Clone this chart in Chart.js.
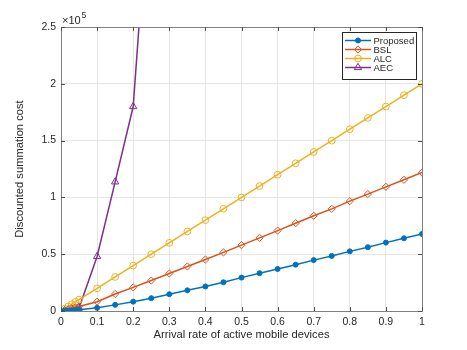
<!DOCTYPE html>
<html>
<head>
<meta charset="utf-8">
<script src="https://cdn.jsdelivr.net/npm/chart.js@4"></script>
<style>
  html, body { margin: 0; padding: 0; background: #fff; }
  #wrap { width: 467px; height: 350px; position: relative; }
</style>
</head>
<body>
<div id="wrap"><canvas id="chart" width="467" height="350"></canvas></div>
<script>
/* ===== data ===== */
const arrivalRates = [0.01, 0.02, 0.03, 0.04, 0.05,
  0.1, 0.15, 0.2, 0.25, 0.3, 0.35, 0.4, 0.45, 0.5, 0.55,
  0.6, 0.65, 0.7, 0.75, 0.8, 0.85, 0.9, 0.95, 1.0];
const proposedCost = [200, 400, 600, 800, 1100,
  2800, 5400, 8200, 11300, 14800, 18200, 21600, 25300, 29400, 33300,
  37000, 40800, 44800, 48500, 52500, 56200, 60200, 64000, 67800];
const bslCost = [700, 1500, 2300, 3100, 3900,
  8200, 15000, 20800, 26800, 33000, 39200, 45300, 51600, 58000, 64400,
  70800, 77300, 83800, 89900, 96700, 102900, 109300, 115500, 121900];
const alcCost = [2000, 4000, 6000, 8000, 10000,
  20000, 30000, 40000, 50000, 60000, 70000, 80000, 90000, 100000, 110000,
  120000, 130000, 140000, 150000, 160000, 170000, 180000, 190000, 200000];
const aecRates = [0.01, 0.02, 0.03, 0.04, 0.05, 0.1, 0.15, 0.2, 0.25];
const aecCost = [400, 800, 1300, 1900, 2600, 48000, 113700, 180000, 400000];
const yTicks = [0, 50000, 100000, 150000, 200000, 250000];

const seriesNames = ['Proposed', 'BSL', 'ALC', 'AEC'];
const seriesColors = ['#0072BD', '#D95319', '#EDB120', '#7E2F8E'];

const toPoints = (xs, ys) => xs.map((x, i) => ({ x: x, y: ys[i] }));

const TEXT = '#262626';
const FONT = '"Liberation Sans", Arial, Helvetica, sans-serif';

// box, inward ticks, x10^5 label, legend
const framePlugin = {
  id: 'frame',
  afterDraw(chart) {
    const { ctx, chartArea: a, scales } = chart;
    ctx.save();
    ctx.strokeStyle = '#808080';
    ctx.lineWidth = 1;
    ctx.strokeRect(Math.round(a.left) + 0.5, Math.round(a.top) + 0.5,
      Math.round(a.right - a.left), Math.round(a.bottom - a.top));
    ctx.strokeStyle = '#4d4d4d';
    const t = 4;
    scales.x.ticks.forEach(tk => {
      const px = Math.round(scales.x.getPixelForValue(tk.value)) + 0.5;
      ctx.beginPath();
      ctx.moveTo(px, a.bottom); ctx.lineTo(px, a.bottom - t);
      ctx.moveTo(px, a.top); ctx.lineTo(px, a.top + t);
      ctx.stroke();
    });
    scales.y.ticks.forEach(tk => {
      const py = Math.round(scales.y.getPixelForValue(tk.value)) + 0.5;
      ctx.beginPath();
      ctx.moveTo(a.left, py); ctx.lineTo(a.left + t, py);
      ctx.moveTo(a.right, py); ctx.lineTo(a.right - t, py);
      ctx.stroke();
    });

    // exponent label
    ctx.fillStyle = TEXT;
    ctx.textBaseline = 'alphabetic';
    ctx.textAlign = 'left';
    ctx.font = '11px ' + FONT;
    ctx.fillText('\u00d710', a.left + 1, a.top - 3);
    ctx.font = '8.5px ' + FONT;
    ctx.fillText('5', a.left + 20.5, a.top - 9);

    // legend
    const lx = 342.5, ly = 32.5, lw = 74, lh = 47;
    ctx.fillStyle = '#fff';
    ctx.fillRect(lx, ly, lw, lh);
    ctx.strokeStyle = '#262626';
    ctx.lineWidth = 1;
    ctx.strokeRect(lx, ly, lw, lh);
    ctx.font = '9.5px ' + FONT;
    ctx.textBaseline = 'middle';
    chart.data.datasets.forEach((ds, i) => {
      const y = 40.5 + i * 9;
      ctx.strokeStyle = ds.borderColor;
      ctx.lineWidth = 1.5;
      ctx.beginPath();
      ctx.moveTo(345, y); ctx.lineTo(371, y);
      ctx.stroke();
      ctx.fillStyle = ds.pointBackgroundColor;
      ctx.lineWidth = ds.pointBorderWidth;
      Chart.helpers.drawPoint(ctx, {
        pointStyle: ds.pointStyle,
        radius: ds.pointRadius,
        borderWidth: ds.pointBorderWidth
      }, 358, y);
      ctx.fillStyle = TEXT;
      ctx.fillText(ds.label, 373.5, y + 0.5);
    });
    ctx.restore();
  }
};

const makeSet = (i, data, style, radius, filled) => ({
  label: seriesNames[i],
  data: data,
  borderColor: seriesColors[i],
  backgroundColor: filled ? seriesColors[i] : 'rgba(255,255,255,0)',
  borderWidth: 1.5,
  pointStyle: style,
  pointRadius: radius,
  pointBorderWidth: 1,
  pointBackgroundColor: filled ? seriesColors[i] : 'rgba(255,255,255,0)',
  pointBorderColor: seriesColors[i],
  tension: 0,
  cubicInterpolationMode: 'default'
});

new Chart(document.getElementById('chart'), {
  type: 'line',
  data: {
    datasets: [
      makeSet(0, toPoints(arrivalRates, proposedCost), 'circle', 2.5, true),
      makeSet(1, toPoints(arrivalRates, bslCost), 'rectRot', 3.6, false),
      makeSet(2, toPoints(arrivalRates, alcCost), 'circle', 3.4, false),
      makeSet(3, toPoints(aecRates, aecCost), 'triangle', 4.2, false)
    ]
  },
  options: {
    responsive: false,
    animation: false,
    devicePixelRatio: 1,
    layout: { padding: { top: 27, right: 45, bottom: 0, left: 0 } },
    plugins: { legend: { display: false }, tooltip: { enabled: false } },
    scales: {
      x: {
        type: 'linear',
        min: 0, max: 1,
        grid: { color: '#e6e6e6', drawTicks: false },
        border: { display: false },
        afterFit(s) { s.height = 39; },
        ticks: {
          stepSize: 0.1,
          padding: 5,
          color: TEXT,
          font: { family: FONT, size: 10.5 },
          maxRotation: 0,
          callback: v => String(Math.round(v * 10) / 10)
        },
        title: {
          display: true,
          text: 'Arrival rate of active mobile devices',
          color: TEXT,
          font: { family: FONT, size: 11.2 },
          padding: { top: 0, bottom: 8 }
        }
      },
      y: {
        min: 0, max: 250000,
        grid: { color: '#e6e6e6', drawTicks: false },
        border: { display: false },
        afterFit(s) { s.width = 61; },
        afterBuildTicks(s) { s.ticks = yTicks.map(v => ({ value: v })); },
        ticks: {
          padding: 5,
          color: TEXT,
          font: { family: FONT, size: 10.5 },
          callback: v => String(v / 100000)
        },
        title: {
          display: true,
          text: 'Discounted summation cost',
          color: TEXT,
          font: { family: FONT, size: 11.2 },
          padding: { top: 13, bottom: 0 }
        }
      }
    }
  },
  plugins: [framePlugin]
});
</script>
</body>
</html>
